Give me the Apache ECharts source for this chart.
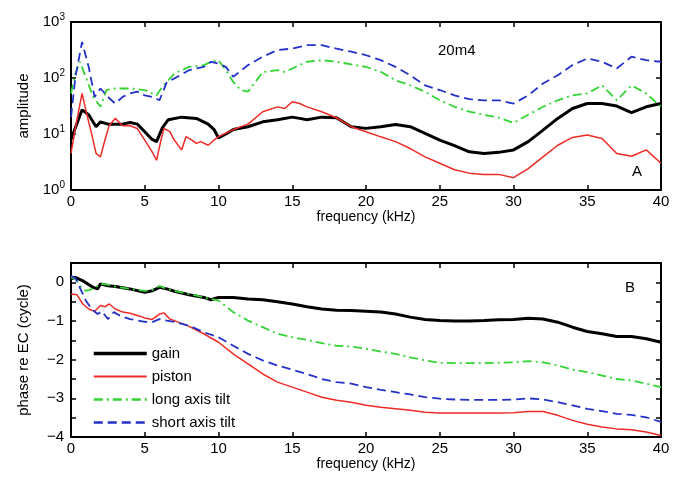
<!DOCTYPE html>
<html>
<head>
<meta charset="utf-8">
<script src="https://cdn.jsdelivr.net/npm/echarts@6/dist/echarts.min.js"></script>
<style>
  html, body { margin: 0; padding: 0; background: #fff; }
  #chart { width: 683px; height: 489px; }
</style>
</head>
<body>
<div id="chart"></div>
<script>
// panel A: amplitude vs frequency (kHz)
const ampGainF = [0,0.75,1.2,1.7,2,2.5,3.5,4,4.5,5,5.5,5.8,6.2,6.6,7.5,8.5,9.3,9.7,10,10.5,11,12,13,14,15,15.5,16,17,18,19,20,21,22,23,24,25,26,27,28,29,30,31,32,33,34,35,36,37,38,39,40];
const ampGain = [8,27,22,13.5,16.5,15,15,16,15,11,8,7.3,13,18,20,19,15,12,8.5,10,12,13.5,16.5,18,20,19,18,20,19.5,13.5,12.6,13.5,14.8,13.5,10.3,7.8,6.2,4.8,4.5,4.7,5.2,7.3,11.7,19,28.5,35,35,31.5,24,30.6,35];

const ampPistonF = [0,0.3,0.75,1,1.4,1.7,2,2.3,2.6,3,3.5,4,4.5,5,5.5,5.8,6.1,6.3,6.7,7,7.5,7.8,8.2,8.5,8.8,9.3,9.7,10,11,12,13,14,14.5,15,15.5,16,17,18,19,20,21,22,23,24,25,26,27,28,29,30,31,32,33,34,35,36,37,38,39,40];
const ampPiston = [4.5,13,53,27,10,4.5,3.9,7.8,14.4,19,14,14,12.5,7.8,4.8,3.4,7.8,12.6,11,7.8,5.2,9,7.8,6.8,7.3,6.3,7.8,9,12,15,25,30.5,28.5,37.6,35,30.5,25,19.5,13.5,11,8.9,7.3,5.5,3.9,3.0,2.3,2.0,1.9,1.9,1.66,2.4,3.9,6.3,8.7,9.6,8.3,4.5,4.0,5.2,3.0];

const ampLongF = [0,0.3,0.6,1,1.5,2,2.4,3,4,5,5.8,6.2,7,8,9,9.5,10,10.5,11,11.5,12,12.5,13,14,14.5,15,16,17,18,19,20,21,22,23,24,25,26,27,28,29,30,31,32,33,34,35,36,37,38,39,40];
const ampLong = [53,120,195,105,46,30.6,61,65,65,61,49,70,120,158,170,195,208,138,85,61,57,85,128,138,128,148,195,208,195,175,158,129,91,74,57,40,30.6,25,22,19.6,15.8,22,30.6,40,49,53,74,40,74,53,30.6];

const ampShortF = [0,0.3,0.75,1.2,1.6,2,2.5,3,3.5,4,4.5,5,5.5,6,6.5,7,8,9,9.5,10,10.5,11,12,13,14,15,16,17,18,19,20,21,22,23,24,25,26,27,28,29,30,31,32,33,34,35,36,37,38,39,40];
const ampShort = [20,105,440,158,46,65,46,35,46,53,57,49,46,40,85,98,138,158,195,180,158,105,170,240,315,335,385,385,335,295,255,208,158,112,74,61,49,42,40,40,35,49,80,112,170,223,195,148,240,208,195];

// panel B: phase re EC (cycle)
const phGainF = [0,0.3,0.8,1.5,1.8,2,2.5,3,4,5,5.5,6,6.5,7,8,9,9.5,10,11,12,13,14,15,16,17,18,19,20,21,22,23,24,25,26,27,28,29,30,31,32,33,34,35,36,37,38,39,40];
const phGain = [0.09,0.13,0.04,-0.13,-0.17,-0.04,-0.09,-0.11,-0.17,-0.26,-0.22,-0.13,-0.17,-0.23,-0.32,-0.39,-0.45,-0.39,-0.39,-0.43,-0.45,-0.5,-0.56,-0.63,-0.69,-0.72,-0.73,-0.75,-0.77,-0.82,-0.9,-0.96,-0.99,-1.0,-1.0,-0.99,-0.97,-0.96,-0.93,-0.95,-1.03,-1.16,-1.27,-1.33,-1.4,-1.4,-1.46,-1.55];

const phPistonF = [0,0.4,0.8,1.2,1.6,2,2.3,2.6,3,3.5,4,4.5,5,5.5,6,6.3,6.7,7,8,9,10,11,12,13,14,15,16,17,18,19,20,21,22,23,24,25,26,27,28,29,30,31,32,33,34,35,36,37,38,39,40];
const phPiston = [-0.3,-0.32,-0.56,-0.69,-0.75,-0.6,-0.63,-0.56,-0.69,-0.77,-0.8,-0.86,-0.92,-0.96,-0.82,-0.79,-0.95,-0.99,-1.14,-1.33,-1.55,-1.85,-2.11,-2.37,-2.58,-2.71,-2.84,-2.97,-3.05,-3.1,-3.18,-3.23,-3.27,-3.31,-3.36,-3.38,-3.38,-3.38,-3.38,-3.38,-3.37,-3.34,-3.34,-3.44,-3.57,-3.67,-3.74,-3.79,-3.81,-3.87,-3.96];

const phLongF = [0,0.3,0.7,1,1.5,2,2.5,3,4,5,5.5,6,6.5,7,8,9,10,11,12,13,14,15,16,17,18,19,20,21,22,23,24,25,26,27,28,29,30,31,32,33,34,35,36,37,38,39,40];
const phLong = [0.13,0.09,-0.13,-0.22,-0.17,-0.04,-0.06,-0.11,-0.17,-0.22,-0.2,-0.09,-0.17,-0.22,-0.3,-0.39,-0.47,-0.77,-0.99,-1.16,-1.33,-1.42,-1.49,-1.57,-1.64,-1.66,-1.72,-1.79,-1.85,-1.94,-2.02,-2.08,-2.09,-2.09,-2.09,-2.08,-2.07,-2.04,-2.07,-2.15,-2.26,-2.32,-2.41,-2.5,-2.54,-2.62,-2.71];

const phShortF = [0,0.3,0.7,1,1.4,1.8,2.1,2.5,2.9,3.3,4,5,5.5,6,6.5,7,8,9,10,11,12,13,14,15,16,17,18,19,20,21,22,23,24,25,26,27,28,29,30,31,32,33,34,35,36,37,38,39,40];
const phShort = [0.17,0.11,-0.22,-0.47,-0.69,-0.82,-0.75,-0.95,-0.77,-0.86,-0.95,-1.02,-1.03,-0.95,-0.99,-1.02,-1.12,-1.29,-1.42,-1.64,-1.85,-2.02,-2.15,-2.26,-2.37,-2.5,-2.58,-2.62,-2.71,-2.78,-2.84,-2.9,-2.97,-3.01,-3.03,-3.04,-3.04,-3.04,-3.03,-3.0,-3.03,-3.1,-3.18,-3.27,-3.33,-3.4,-3.43,-3.49,-3.61];

const names = ['gain', 'piston', 'long axis tilt', 'short axis tilt'];

const FONT = 'Liberation Sans, Arial, sans-serif';
const pairs = (xs, ys) => xs.map((x, i) => [x, ys[i]]);

const styles = {
  'gain': { color: '#000000', width: 3, type: 'solid' },
  'piston': { color: '#ee2b24', width: 1.5, type: 'solid' },
  'long axis tilt': { color: '#33d433', width: 1.8, type: [9, 4, 2, 4] },
  'short axis tilt': { color: '#2431c8', width: 1.8, type: [9, 5] }
};

function line(name, data, gi) {
  const s = styles[name];
  return {
    name: name, type: 'line', xAxisIndex: gi * 2, yAxisIndex: gi * 2,
    data: data, showSymbol: false, symbol: 'none', silent: true,
    lineStyle: { color: s.color, width: s.width, type: s.type },
    itemStyle: { color: s.color }
  };
}

const tick = { show: true, inside: true, length: 5, lineStyle: { color: '#000', width: 1.5 } };
const axLine = { show: true, onZero: false, lineStyle: { color: '#000', width: 2 } };

function xAxes(gi) {
  return [
    { gridIndex: gi, type: 'value', min: 0, max: 40, interval: 5, position: 'bottom',
      axisLine: axLine, axisTick: tick, splitLine: { show: false },
      axisLabel: { color: '#000', fontSize: 15, fontFamily: FONT, margin: 4 },
      name: 'frequency (kHz)', nameLocation: 'middle', nameGap: 18,
      nameTextStyle: { color: '#000', fontSize: 14, fontFamily: FONT } },
    { gridIndex: gi, type: 'value', min: 0, max: 40, interval: 5, position: 'top',
      axisLine: axLine, axisTick: tick, axisLabel: { show: false }, splitLine: { show: false } }
  ];
}

const phaseLabel = v => (Math.abs(v - Math.round(v)) > 1e-6 || v > 0 ? '' : String(v).replace('-', '\u2212'));

const option = {
  animation: false,
  backgroundColor: '#fff',
  grid: [
    { left: 71, right: 22, top: 22, height: 168 },
    { left: 71, right: 22, top: 263, height: 174 }
  ],
  xAxis: xAxes(0).concat(xAxes(1)),
  yAxis: [
    { gridIndex: 0, type: 'log', logBase: 10, min: 1, max: 1000, position: 'left',
      axisLine: axLine, axisTick: tick, splitLine: { show: false },
      axisLabel: {
        margin: 6, color: '#000', fontFamily: FONT,
        formatter: v => '{b|10}{s|' + Math.round(Math.log10(v)) + '}',
        rich: {
          b: { fontSize: 15, fontFamily: FONT, color: '#000' },
          s: { fontSize: 10, fontFamily: FONT, color: '#000', padding: [0, 0, 10, 0] }
        }
      },
      name: 'amplitude', nameLocation: 'middle', nameGap: 40,
      nameTextStyle: { color: '#000', fontSize: 15, fontFamily: FONT } },
    { gridIndex: 0, type: 'log', logBase: 10, min: 1, max: 1000, position: 'right',
      axisLine: axLine, axisTick: tick, axisLabel: { show: false }, splitLine: { show: false } },
    { gridIndex: 1, type: 'value', min: -4, max: 0.5, interval: 0.5, position: 'left',
      axisLine: axLine, axisTick: tick, splitLine: { show: false },
      axisLabel: { margin: 7, color: '#000', fontSize: 15, fontFamily: FONT, formatter: phaseLabel },
      name: 'phase re EC (cycle)', nameLocation: 'middle', nameGap: 40,
      nameTextStyle: { color: '#000', fontSize: 15, fontFamily: FONT } },
    { gridIndex: 1, type: 'value', min: -4, max: 0.5, interval: 0.5, position: 'right',
      axisLine: axLine, axisTick: tick, axisLabel: { show: false }, splitLine: { show: false } }
  ],
  legend: {
    data: names.map(n => ({ name: n, lineStyle: { width: styles[n].width + 0.5 } })),
    orient: 'vertical', left: 92, top: 346, padding: 0,
    itemWidth: 53, itemHeight: 14, itemGap: 8, selectedMode: false,
    itemStyle: { opacity: 0 },
    textStyle: { color: '#000', fontSize: 15, fontFamily: FONT }
  },
  graphic: [
    { type: 'text', left: 438, top: 43, style: { text: '20m4', fontSize: 15, fontFamily: FONT, fill: '#000' } },
    { type: 'text', left: 632, top: 164, style: { text: 'A', fontSize: 15, fontFamily: FONT, fill: '#000' } },
    { type: 'text', left: 625, top: 280, style: { text: 'B', fontSize: 15, fontFamily: FONT, fill: '#000' } }
  ],
  series: [
    line('gain', pairs(ampGainF, ampGain), 0),
    line('piston', pairs(ampPistonF, ampPiston), 0),
    line('long axis tilt', pairs(ampLongF, ampLong), 0),
    line('short axis tilt', pairs(ampShortF, ampShort), 0),
    line('gain', pairs(phGainF, phGain), 1),
    line('piston', pairs(phPistonF, phPiston), 1),
    line('long axis tilt', pairs(phLongF, phLong), 1),
    line('short axis tilt', pairs(phShortF, phShort), 1)
  ]
};

const chart = echarts.init(document.getElementById('chart'));
chart.setOption(option);
</script>
</body>
</html>
